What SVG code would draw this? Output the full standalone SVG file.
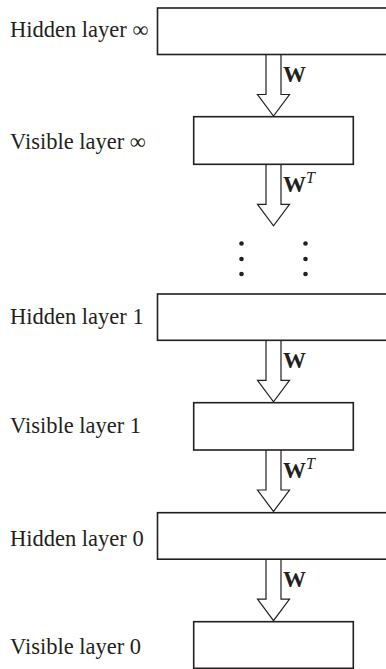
<svg xmlns="http://www.w3.org/2000/svg" width="386" height="669" viewBox="0 0 386 669">
<style>
.box{fill:#fff;stroke:#231f20;stroke-width:1.6}
.arr{fill:#fff;stroke:#231f20;stroke-width:1.2;stroke-linejoin:miter}
.lbl{font-family:"Liberation Serif","Times New Roman",serif;font-size:22.5px;fill:#231f20}
.w{font-family:"Liberation Serif","Times New Roman",serif;font-size:23px;font-weight:bold;fill:#231f20}
.t{font-family:"Liberation Serif","Times New Roman",serif;font-size:16px;font-weight:normal;font-style:italic;fill:#231f20}
.dot{fill:#231f20}
</style>
<defs>
<path id="arrow" class="arr" d="M-7.5,0 L-7.5,40 L-16,40 L0,61.5 L16,40 L7.5,40 L7.5,0"/>
</defs>
<rect width="386" height="669" fill="#fff"/>
<g id="connectors">
<use href="#arrow" x="273.5" y="54.5"/>
<use href="#arrow" x="273.5" y="164.3"/>
<use href="#arrow" x="273.5" y="340.3"/>
<use href="#arrow" x="273.5" y="450"/>
<use href="#arrow" x="273.5" y="559.2"/>
<text class="w" x="283" y="82">W</text>
<text class="w" x="283" y="192">W<tspan class="t" dy="-9">T</tspan></text>
<text class="w" x="283" y="368">W</text>
<text class="w" x="283" y="477.5">W<tspan class="t" dy="-9">T</tspan></text>
<text class="w" x="283" y="587">W</text>
</g>
<g id="hidden-inf">
<rect class="box" x="157.5" y="8" width="240" height="46.5"/>
<text class="lbl" x="10" y="37">Hidden layer ∞</text>
</g>
<g id="visible-inf">
<rect class="box" x="193.7" y="116.7" width="159.6" height="47.6"/>
<text class="lbl" x="10" y="149">Visible layer ∞</text>
</g>
<g id="ellipsis">
<circle class="dot" cx="241.5" cy="243.5" r="2.3"/>
<circle class="dot" cx="241.5" cy="259" r="2.3"/>
<circle class="dot" cx="241.5" cy="274" r="2.3"/>
<circle class="dot" cx="305.5" cy="243.5" r="2.3"/>
<circle class="dot" cx="305.5" cy="259" r="2.3"/>
<circle class="dot" cx="305.5" cy="274" r="2.3"/>
</g>
<g id="hidden-1">
<rect class="box" x="157.5" y="294" width="240" height="46.3"/>
<text class="lbl" x="10" y="324.3">Hidden layer 1</text>
</g>
<g id="visible-1">
<rect class="box" x="193.7" y="402.7" width="159.6" height="47.3"/>
<text class="lbl" x="10" y="433.3">Visible layer 1</text>
</g>
<g id="hidden-0">
<rect class="box" x="157.5" y="512.7" width="240" height="46.5"/>
<text class="lbl" x="10" y="546">Hidden layer 0</text>
</g>
<g id="visible-0">
<rect class="box" x="193.7" y="621.7" width="159.6" height="46.6"/>
<text class="lbl" x="10" y="654">Visible layer 0</text>
</g>
</svg>
